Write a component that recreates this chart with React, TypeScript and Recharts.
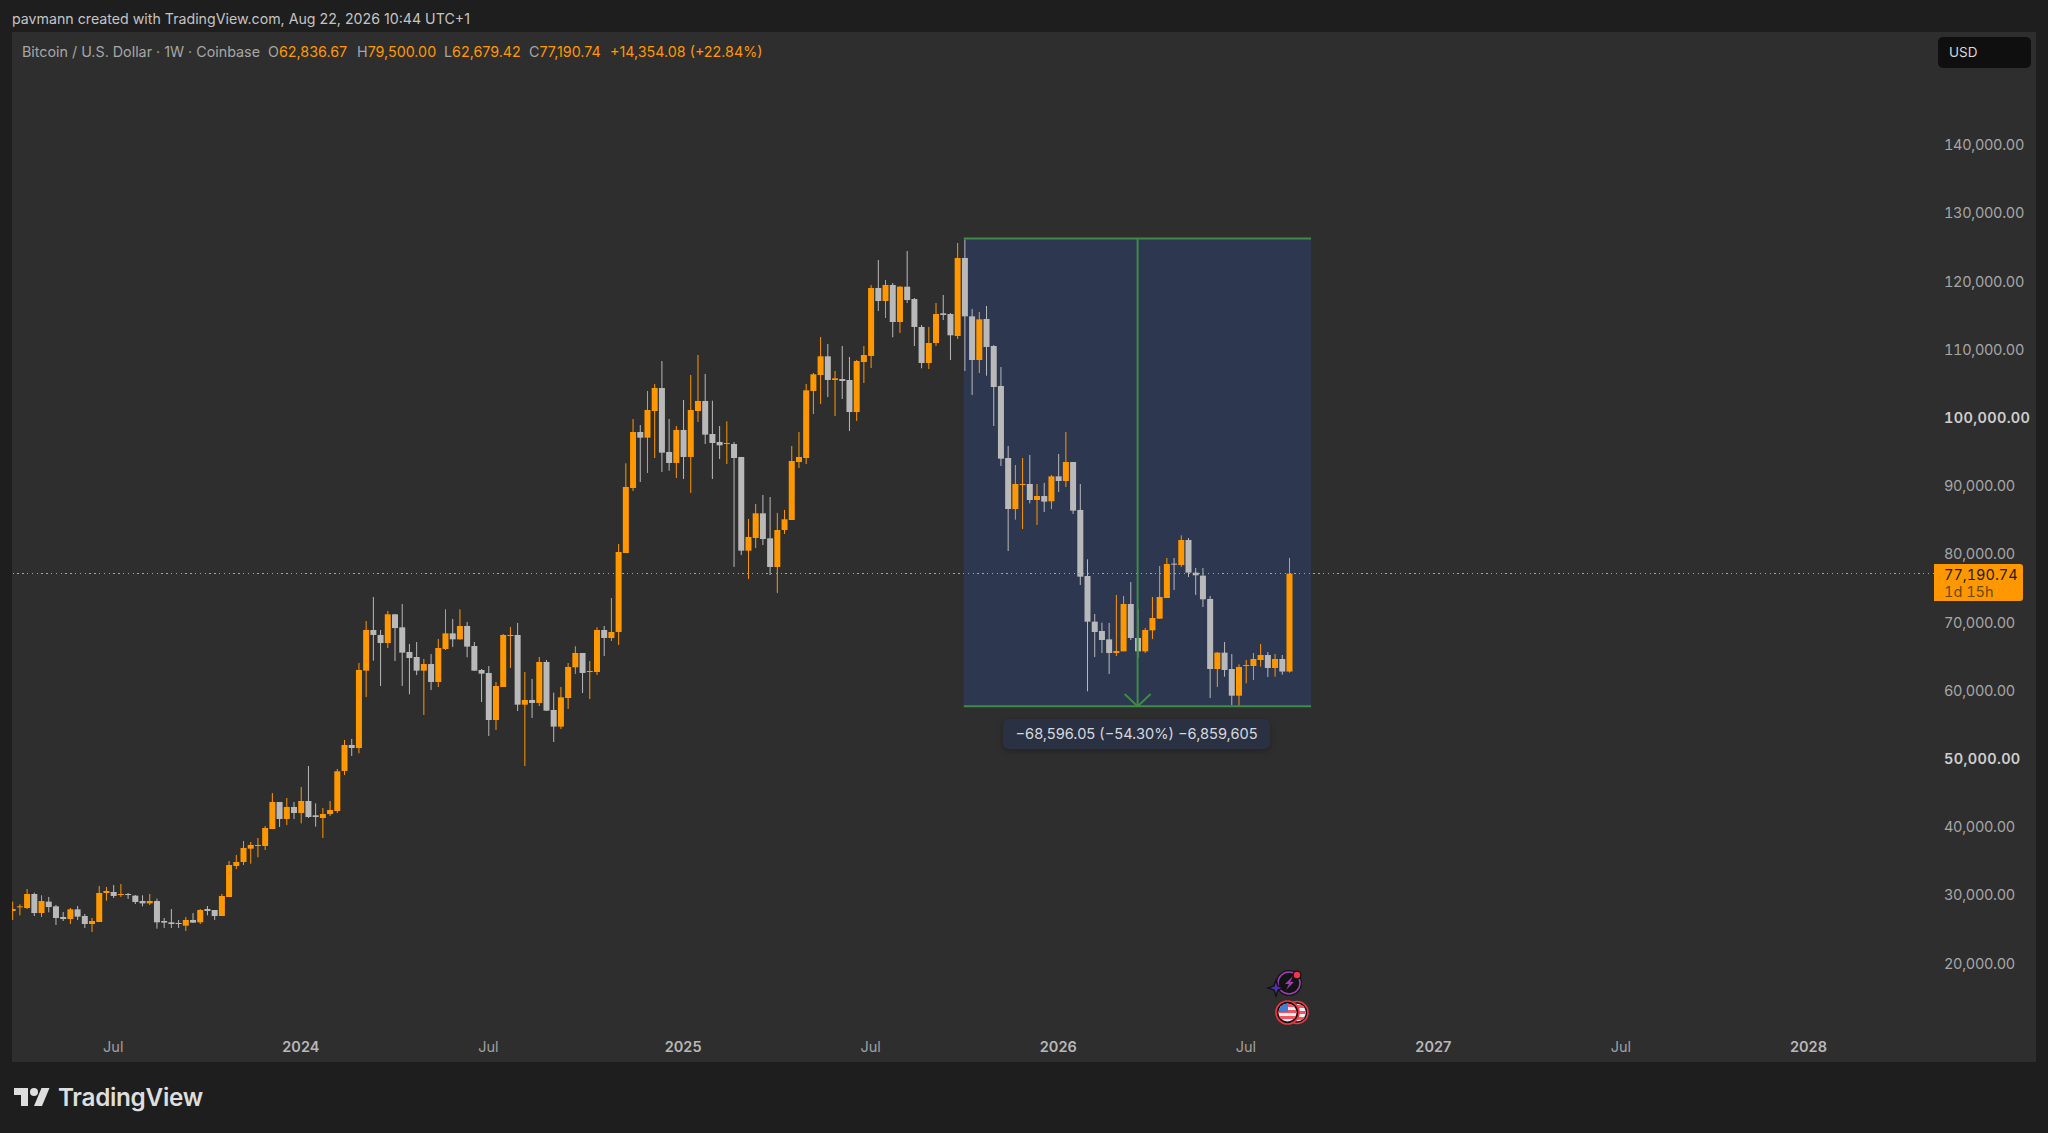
import {
  Bar,
  ComposedChart,
  ReferenceArea,
  ReferenceLine,
  XAxis,
  YAxis,
} from "recharts";

const FONT = "Inter, Roboto, sans-serif";
const UP = "#ff9800";
const DOWN = "#b9b9b9";
const GREEN = "#3f8b47";

// weekly candles
const opens = [
  27730, 28270, 28170, 30220, 27430, 29100, 28410, 26850, 26550, 27970, 26990, 25820, 26110, 30370, 30510, 30070,
  30220, 29980, 29190, 28850, 29190, 26260, 26070, 25970, 25580, 26410, 26070, 28020, 27870, 26990, 29780, 34330,
  34910, 36870, 37260, 37260, 39750, 43710, 41220, 42980, 42100, 43860, 41760, 41360, 41950, 42390, 48260, 52070,
  51630, 62970, 68930, 68200, 67020, 71230, 69320, 65700, 64970, 62970, 63940, 61310, 66140, 68440, 67560, 69520,
  66580, 63070, 62630, 55730, 60570, 68050, 68200, 57980, 58670, 58230, 64240, 57200, 54760, 58960, 63460, 65560,
  62770, 62770, 68930, 67760, 68640, 80220, 89750, 97960, 97130, 101040, 104410, 95030, 93420, 98260, 94300, 101040,
  102510, 97670, 96500, 96200, 96200, 94300, 80560, 82420, 86040, 82370, 78170, 83590, 85060, 93560, 94150, 103970,
  106320, 109060, 105590, 105730, 105590, 100890, 108230, 109110, 119080, 117170, 119520, 114090, 119270, 117460, 113360, 108080,
  111010, 115360, 115260, 112040, 123480, 114920, 108520, 114530, 110570, 104710, 94150, 86670, 90190, 90340, 87990, 88580,
  87800, 91460, 90780, 93560, 86530, 76850, 70150, 68780, 67560, 65560, 65800, 72740, 67760, 65800, 68880, 70590,
  73620, 78660, 78460, 82130, 77340, 76900, 73480, 63210, 65610, 63210, 59300, 63650, 63650, 64530, 65260, 63360,
  64680, 62836.67,
];
const closes = [
  28020, 28410, 30220, 27430, 29190, 28310, 26700, 26550, 27970, 26900, 25820, 26260, 30370, 30660, 29930, 30220,
  30070, 29050, 28850, 29190, 26070, 26020, 25820, 25820, 26410, 26020, 27870, 27730, 26990, 29930, 34470, 34910,
  36970, 37410, 37410, 39900, 43710, 41220, 42980, 42100, 43860, 41510, 41510, 41950, 42540, 48210, 52070, 51630,
  63070, 68930, 68200, 67020, 71230, 69220, 65610, 64820, 62970, 63940, 61310, 66290, 68440, 67560, 69520, 66490,
  62970, 62530, 55730, 60720, 68200, 68200, 57980, 58670, 58230, 64240, 57100, 54760, 59060, 63510, 65560, 62630,
  62920, 68930, 67760, 68640, 80370, 89900, 97960, 97130, 101190, 104410, 94930, 93420, 98260, 94300, 101190, 102510,
  97570, 96350, 96010, 96350, 94150, 80560, 82570, 86040, 82270, 78170, 83590, 85160, 93710, 94300, 104070, 106420,
  109060, 105590, 105830, 105440, 100890, 108370, 109250, 119080, 117170, 119520, 114090, 119270, 117320, 113360, 108080, 111010,
  115260, 115120, 112140, 123480, 114920, 108520, 114480, 110430, 104560, 94050, 86670, 90340, 90340, 87990, 88580, 87750,
  91460, 90780, 93560, 86430, 76750, 70150, 68640, 67460, 65560, 65850, 72740, 67760, 65800, 68930, 70690, 73770,
  78610, 78510, 82130, 77340, 76950, 73430, 63210, 65610, 63070, 59300, 63510, 63800, 64680, 65260, 63360, 64680,
  62840, 77190.74,
];
const highs = [
  29100, 28710, 30950, 30420, 30030, 29780, 28610, 27580, 28170, 28460, 27290, 26700, 31390, 31250, 31540, 31690,
  30370, 30070, 30030, 30220, 29540, 26700, 28020, 26410, 26850, 27430, 28020, 28460, 27870, 30220, 35060, 35940,
  37990, 37850, 38430, 40190, 45030, 43710, 44300, 43710, 45910, 48990, 43510, 42830, 43860, 48550, 52800, 52950,
  64090, 70250, 73770, 68930, 71720, 71280, 72740, 66880, 67170, 64680, 65410, 67610, 71960, 70540, 71960, 70100,
  67170, 63210, 63650, 61310, 68340, 69370, 69960, 62770, 61750, 64970, 64530, 59740, 60570, 64090, 66540, 65560,
  64380, 69320, 69520, 73620, 81540, 93370, 99870, 98990, 103970, 105000, 108370, 99870, 98840, 102650, 106320, 109250,
  106470, 102560, 98840, 99530, 96500, 94300, 85210, 87410, 88720, 88430, 86090, 86530, 95910, 97960, 105000, 106610,
  111890, 110870, 106910, 110570, 108960, 108520, 110570, 119520, 123180, 120250, 119810, 119370, 124500, 117610, 113650, 113360,
  116880, 118050, 115410, 125680, 126200, 116000, 115560, 116440, 110720, 107490, 95910, 93120, 94150, 94590, 90340, 90490,
  91660, 94740, 97960, 93560, 90340, 79290, 71280, 70010, 69960, 74060, 73920, 75970, 72010, 69220, 73770, 78310,
  79490, 79490, 82810, 82420, 78020, 78020, 73920, 65700, 67170, 65410, 63900, 64530, 65560, 66880, 65700, 65410,
  65260, 79500,
];
const lows = [
  26410, 27090, 28020, 26990, 26850, 27530, 25680, 26260, 25820, 26410, 25240, 24650, 26110, 29240, 29630, 29780,
  29490, 28750, 28410, 28610, 25140, 25240, 25240, 25240, 24800, 25970, 25820, 27090, 26410, 26990, 29780, 33890,
  34470, 34670, 35600, 36670, 39750, 40040, 40340, 41220, 40580, 41360, 40090, 38430, 41660, 42100, 47670, 50460,
  50850, 59110, 64430, 60720, 66290, 64380, 60720, 59500, 62330, 56470, 60130, 60570, 66000, 66440, 67510, 64920,
  62920, 58370, 53390, 54270, 60570, 63360, 57050, 48990, 56030, 57790, 57100, 52510, 54410, 57350, 62480, 59690,
  58810, 62330, 65120, 67320, 66730, 80220, 89310, 90630, 91950, 94150, 92100, 92290, 91220, 91070, 89020, 99430,
  96200, 91070, 94000, 93270, 78170, 79930, 76410, 80950, 81390, 76990, 74360, 83010, 85060, 92680, 93270, 100600,
  102070, 103090, 100310, 102800, 98110, 99580, 105150, 107350, 115700, 114680, 111840, 112480, 116880, 110570, 107300, 107200,
  110570, 114380, 108520, 111600, 106910, 103390, 106610, 106220, 98840, 92980, 80510, 85110, 83740, 87500, 84330, 86230,
  86670, 89170, 89900, 85940, 75530, 59940, 64970, 65560, 62480, 65120, 65800, 67460, 64820, 65560, 67610, 70590,
  73620, 74800, 78170, 76700, 74060, 72300, 58960, 60570, 62090, 57930, 57730, 61110, 61600, 63550, 62040, 62090,
  62380, 62679.42,
];

const priceTicks = [
  20000, 30000, 40000, 50000, 60000, 70000, 80000, 90000, 100000, 110000, 120000, 130000, 140000,
];
const boldPrices = [50000, 100000];

// week number of each time tick, the first candle is week 0
const timeTickWeeks = [14, 40, 66, 93, 119, 145, 171, 197, 223, 249];
const timeTickLabels = ["Jul", "2024", "Jul", "2025", "Jul", "2026", "Jul", "2027", "Jul", "2028"];

const LAST_PRICE = 77190.74;
const MEASURE_TOP = 126328;
const MEASURE_BOTTOM = 57732;
const MEASURE_START = 131.9;
const MEASURE_END = 180.05;
const MEASURE_MID = 156;

const legendItems = [
  { left: 268, label: "O", value: "62,836.67" },
  { left: 357, label: "H", value: "79,500.00" },
  { left: 444, label: "L", value: "62,679.42" },
  { left: 529, label: "C", value: "77,190.74" },
  { left: 610, label: "", value: "+14,354.08 (+22.84%)" },
];

const candles = opens.map((open, i) => ({
  week: i,
  open,
  close: closes[i],
  range: [lows[i], highs[i]],
}));

function Candle(props: any) {
  const { x, y, width, height, payload } = props;
  const [low, high] = payload.range;
  const toY = (v: number) => y + ((high - v) / (high - low)) * height;
  const color = payload.close >= payload.open ? UP : DOWN;
  const top = toY(Math.max(payload.open, payload.close));
  const bottom = toY(Math.min(payload.open, payload.close));
  const cx = x + width / 2;
  return (
    <g>
      <line x1={cx} x2={cx} y1={y} y2={y + height} stroke={color} strokeWidth={1} />
      <rect x={x} y={top} width={width} height={Math.max(bottom - top, 1)} fill={color} />
    </g>
  );
}

function PriceTick({ x, y, payload }: any) {
  const bold = boldPrices.includes(payload.value);
  return (
    <text
      x={x}
      y={y}
      dy={5}
      fontFamily={FONT}
      fontSize={14.5}
      fontWeight={bold ? 600 : 400}
      fill={bold ? "#cfcfcf" : "#a6a6a6"}
      textAnchor="start"
      letterSpacing={bold ? 0.35 : -0.3}
      style={{ fontVariantNumeric: "tabular-nums" }}
    >
      {payload.value.toLocaleString("en-US", { minimumFractionDigits: 2 })}
    </text>
  );
}

function TimeTick({ x, y, index }: any) {
  const label = timeTickLabels[index];
  const bold = label !== "Jul";
  // the time labels sit inside the pane, just above its lower edge
  return (
    <text
      x={x}
      y={y}
      dy={-22}
      fontFamily={FONT}
      fontSize={14.5}
      fontWeight={bold ? 600 : 400}
      fill={bold ? "#b8b8b8" : "#a0a0a0"}
      textAnchor="middle"
    >
      {label}
    </text>
  );
}

function Badges() {
  return (
    <svg
      width={60}
      height={70}
      viewBox="1260 960 60 70"
      style={{ position: "absolute", left: 1260, top: 960 }}
    >
      <circle cx={1289} cy={983} r={11.5} fill="#131313" stroke="#131313" strokeWidth={3} />
      <circle cx={1289} cy={983} r={11} fill="none" stroke="#9c3db4" strokeWidth={1.6} />
      <path d="M1293 976 L1285 984 H1289 L1286 990 L1294 982 H1290 Z" fill="#9c3db4" />
      <circle cx={1297} cy={975} r={4.5} fill="#131313" />
      <circle cx={1297} cy={975} r={3.2} fill="#f23645" />
      <path d="M1276 980 L1278 986 L1284 988 L1278 990 L1276 996 L1274 990 L1268 988 L1274 986 Z" fill="#4a35a8" stroke="#131313" strokeWidth={1.5} />
      <circle cx={1297} cy={1012.5} r={11} fill="#131313" stroke="#f23645" strokeWidth={1.6} />
      <clipPath id="flagBack">
        <circle cx={1297} cy={1012.5} r={8.8} />
      </clipPath>
      <g clipPath="url(#flagBack)">
        <rect x={1288} y={1003} width={18} height={19} fill="#f0f0f0" />
        <rect x={1288} y={1005} width={18} height={3} fill="#f7525f" />
        <rect x={1288} y={1011} width={18} height={3} fill="#f7525f" />
        <rect x={1288} y={1017} width={18} height={3} fill="#f7525f" />
      </g>
      <circle cx={1287.5} cy={1012.5} r={11.5} fill="#131313" stroke="#f23645" strokeWidth={1.6} />
      <clipPath id="flag">
        <circle cx={1287.5} cy={1012.5} r={9} />
      </clipPath>
      <g clipPath="url(#flag)">
        <rect x={1278} y={1003} width={19} height={19} fill="#f0f0f0" />
        <rect x={1278} y={1004} width={19} height={3} fill="#f7525f" />
        <rect x={1278} y={1010} width={19} height={3} fill="#f7525f" />
        <rect x={1278} y={1016} width={19} height={3} fill="#f7525f" />
        <rect x={1278} y={1003} width={10} height={9} fill="#3d7fd9" />
      </g>
    </svg>
  );
}

export default function App() {
  return (
    <div
      style={{
        position: "absolute",
        left: 0,
        top: 0,
        width: 2048,
        height: 1133,
        background: "#1e1e1e",
        overflow: "hidden",
        fontFamily: FONT,
      }}
    >
      <div style={{ position: "absolute", left: 12, top: 32, width: 2024, height: 1030, background: "#2e2e2e" }} />
      <div style={{ position: "absolute", left: 0, top: 0 }}>
        <ComposedChart
          width={2048}
          height={1133}
          data={candles}
          margin={{ top: 32, right: 12, bottom: 32, left: 12 }}
        >
          <XAxis
            dataKey="week"
            type="number"
            domain={[-0.04, 266.4]}
            ticks={timeTickWeeks}
            axisLine={false}
            tickLine={false}
            tick={TimeTick}
            height={39}
            tickMargin={6}
            interval={0}
            allowDataOverflow
          />
          <YAxis
            orientation="right"
            type="number"
            domain={[5586, 156613]}
            ticks={priceTicks}
            axisLine={false}
            tickLine={false}
            tick={PriceTick}
            width={102}
            tickMargin={4}
            interval={0}
            allowDataOverflow
          />
          <ReferenceArea
            x1={MEASURE_START}
            x2={MEASURE_END}
            y1={MEASURE_BOTTOM}
            y2={MEASURE_TOP}
            fill="#2d3750"
            fillOpacity={1}
            stroke="none"
          />
          <ReferenceLine
            segment={[{ x: MEASURE_START, y: MEASURE_TOP }, { x: MEASURE_END, y: MEASURE_TOP }]}
            stroke={GREEN}
            strokeWidth={2}
          />
          <ReferenceLine
            segment={[{ x: MEASURE_START, y: MEASURE_BOTTOM }, { x: MEASURE_END, y: MEASURE_BOTTOM }]}
            stroke={GREEN}
            strokeWidth={2}
          />
          <ReferenceLine
            segment={[{ x: MEASURE_MID, y: MEASURE_TOP }, { x: MEASURE_MID, y: MEASURE_BOTTOM }]}
            stroke={GREEN}
            strokeWidth={2}
          />
          <ReferenceLine
            segment={[{ x: MEASURE_MID - 1.8, y: MEASURE_BOTTOM + 1800 }, { x: MEASURE_MID, y: MEASURE_BOTTOM }]}
            stroke={GREEN}
            strokeWidth={2}
          />
          <ReferenceLine
            segment={[{ x: MEASURE_MID + 1.8, y: MEASURE_BOTTOM + 1800 }, { x: MEASURE_MID, y: MEASURE_BOTTOM }]}
            stroke={GREEN}
            strokeWidth={2}
          />
          <ReferenceLine
            y={LAST_PRICE}
            stroke={UP}
            strokeWidth={1}
            strokeDasharray="1.3 3.5"
            shapeRendering="crispEdges"
          />
          <Bar
            dataKey="range"
            barSize={6}
            shape={Candle}
            isAnimationActive={false}
          />
        </ComposedChart>
      </div>

      <div style={{ position: "absolute", left: 12, top: 10, fontSize: 14.2, color: "#c4c4c4", whiteSpace: "nowrap" }}>
        pavmann created with TradingView.com, Aug 22, 2026 10:44 UTC+1
      </div>

      <div style={{ position: "absolute", left: 22, top: 43, fontSize: 14.3, color: "#a6a6a6", whiteSpace: "nowrap" }}>
        Bitcoin / U.S. Dollar · 1W · Coinbase
      </div>
      {legendItems.map((item) => (
        <div
          key={item.left}
          style={{ position: "absolute", left: item.left, top: 43, fontSize: 14.3, color: UP, whiteSpace: "nowrap" }}
        >
          <span style={{ color: "#a6a6a6" }}>{item.label}</span>
          {item.value}
        </div>
      ))}

      <div
        style={{
          position: "absolute",
          left: 1938,
          top: 37,
          width: 93,
          height: 31,
          borderRadius: 5,
          background: "#0f0f0f",
          color: "#d8d8d8",
          fontSize: 13.5,
          lineHeight: "31px",
          paddingLeft: 11,
          boxSizing: "border-box",
        }}
      >
        USD
      </div>

      <div
        style={{
          position: "absolute",
          left: 1934,
          top: 564,
          width: 89,
          height: 37,
          background: UP,
          borderRadius: "0 3px 3px 0",
          color: "#1e1e1e",
          fontSize: 14.5,
          lineHeight: "17px",
          paddingLeft: 10,
          paddingTop: 2,
          boxSizing: "border-box",
          fontVariantNumeric: "tabular-nums",
        }}
      >
        <div>77,190.74</div>
        <div style={{ color: "#6b4a10" }}>1d 15h</div>
      </div>

      <div
        style={{
          position: "absolute",
          left: 1003,
          top: 719,
          width: 267,
          height: 30,
          borderRadius: 6,
          background: "#2a3142",
          boxShadow: "0 2px 6px rgba(0,0,0,0.25)",
          color: "#d6d8de",
          fontSize: 14.6,
          lineHeight: "30px",
          textAlign: "center",
          whiteSpace: "nowrap",
        }}
      >
        −68,596.05 (−54.30%) −6,859,605
      </div>

      <Badges />

      <svg width={36} height={18} viewBox="0 4 36 18" style={{ position: "absolute", left: 14, top: 1088 }}>
        <path d="M14 22H7V11H0V4h14v18zM28 22h-8l7.5-18h8L28 22z" fill="#dedede" />
        <circle cx={20} cy={8} r={4} fill="#dedede" />
      </svg>
      <div
        style={{
          position: "absolute",
          left: 58,
          top: 1082,
          fontSize: 24.3,
          fontWeight: 600,
          color: "#dedede",
          whiteSpace: "nowrap",
          letterSpacing: -0.3,
        }}
      >
        TradingView
      </div>
    </div>
  );
}
